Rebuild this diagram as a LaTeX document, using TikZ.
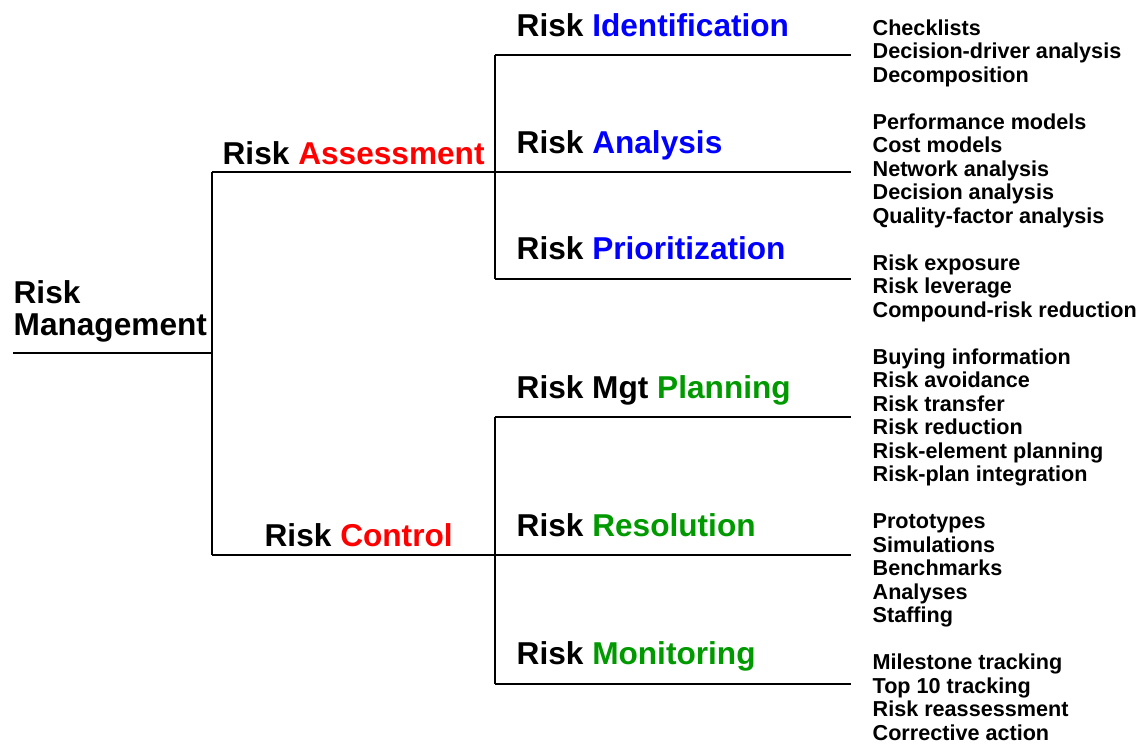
\documentclass[tikz,border=0pt]{standalone}
\usepackage{fontspec}
\setmainfont{Liberation Sans}
\definecolor{riskred}{RGB}{255,0,0}
\definecolor{riskblue}{RGB}{0,0,255}
\definecolor{riskgreen}{RGB}{0,153,0}
\begin{document}
\begin{tikzpicture}[x=0.02cm,y=-0.02cm,line width=0.75pt,line cap=butt,
  big/.style={font=\bfseries\fontsize{18}{18.2}\selectfont,inner sep=0,anchor=base west,align=left},
  leaf/.style={font=\bfseries\fontsize{12.3}{13.32}\selectfont,inner sep=0,anchor=base west,align=left}]
  \useasboundingbox (0,0) rectangle (1141,744);
  % skeleton points (x to the right, y downwards)
  \coordinate (mgmt-l) at (13,353);  \coordinate (mgmt) at (212,353);
  \coordinate (assess) at (212,172); \coordinate (control) at (212,555);
  \coordinate (assess-r) at (495,172); \coordinate (control-r) at (495,555);
  \coordinate (ident) at (495,55);   \coordinate (prior) at (495,279);
  \coordinate (plan) at (495,417);   \coordinate (monit) at (495,684);
  \coordinate (ident-r) at (851,55); \coordinate (anal-r) at (851,172);
  \coordinate (prior-r) at (851,279); \coordinate (plan-r) at (851,417);
  \coordinate (resol-r) at (851,555); \coordinate (monit-r) at (851,684);
  \draw (mgmt-l) -- (mgmt);
  \draw (assess) -- (control);
  \draw (assess) -- (assess-r); \draw (control) -- (control-r);
  \draw (ident) -- (prior); \draw (plan) -- (monit);
  \draw (ident) -- (ident-r); \draw (assess-r) -- (anal-r); \draw (prior) -- (prior-r);
  \draw (plan) -- (plan-r); \draw (control-r) -- (resol-r); \draw (monit) -- (monit-r);
  % branch labels (multi-line nodes sit on their last baseline)
  \node[big] (mgmt-t) at (13,335) {Risk\\Management};
  \node[big] (assess-t) at (222,164) {Risk \textcolor{riskred}{Assessment}};
  \node[big] (control-t) at (264,546) {Risk \textcolor{riskred}{Control}};
  \node[big] (ident-t) at (516,36) {Risk \textcolor{riskblue}{Identification}};
  \node[big] (anal-t) at (516,153) {Risk \textcolor{riskblue}{Analysis}};
  \node[big] (prior-t) at (516,259) {Risk \textcolor{riskblue}{Prioritization}};
  \node[big] (plan-t) at (516,398) {Risk Mgt \textcolor{riskgreen}{Planning}};
  \node[big] (resol-t) at (516,536) {Risk \textcolor{riskgreen}{Resolution}};
  \node[big] (monit-t) at (516,664) {Risk \textcolor{riskgreen}{Monitoring}};
  % techniques, one column with 23.5px line pitch
  \node[leaf] (ident-l) at (872,82) {Checklists\\Decision-driver analysis\\Decomposition};
  \node[leaf] (anal-l) at (872,223) {Performance models\\Cost models\\Network analysis\\Decision analysis\\Quality-factor analysis};
  \node[leaf] (prior-l) at (872,317) {Risk exposure\\Risk leverage\\Compound-risk reduction};
  \node[leaf] (plan-l) at (872,481.5) {Buying information\\Risk avoidance\\Risk transfer\\Risk reduction\\Risk-element planning\\Risk-plan integration};
  \node[leaf] (resol-l) at (872,622.5) {Prototypes\\Simulations\\Benchmarks\\Analyses\\Staffing};
  \node[leaf] (monit-l) at (872,740) {Milestone tracking\\Top 10 tracking\\Risk reassessment\\Corrective action};
\end{tikzpicture}
\end{document}
